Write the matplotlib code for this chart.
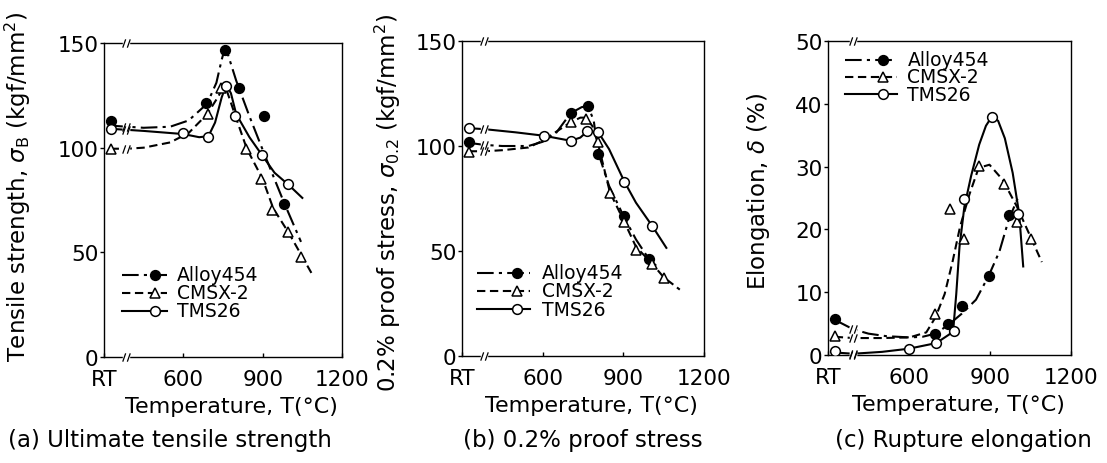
import numpy as np
import matplotlib
matplotlib.use("Agg")
import matplotlib.pyplot as plt
from matplotlib.path import Path

plt.rcParams['font.family'] = ['DejaVu Sans']
plt.rcParams['mathtext.fontset'] = 'dejavusans'

RT = 325  # plotting position used for room temperature

series_names = ["Alloy454", "CMSX-2", "TMS26"]
x_ticks = [300, 600, 900, 1200]
x_ticklabels = ["RT", "600", "900", "1200"]

# ---------------- (a) Ultimate tensile strength ----------------
a_alloy_T = [RT, 687, 756, 810, 906, 981]
a_alloy_v = [112.8, 121.3, 146.8, 128.3, 114.9, 72.9]
a_cmsx_T = [RT, 694, 744, 837, 894, 937, 997, 1044]
a_cmsx_v = [99.3, 116, 128.3, 99.3, 85.2, 70, 59.7, 47.9]
a_tms_T = [RT, 600, 695, 762, 794, 897, 994]
a_tms_v = [108.8, 106.8, 105.3, 129.3, 115.2, 96.4, 82.5]

a_alloy_cT = [325, 390, 450, 550, 620, 690, 725, 745, 755, 770, 800, 850, 900, 935, 980, 1045]
a_alloy_cv = [110.5, 110, 109.5, 110, 113, 121, 131, 142, 146.5, 144, 132, 115, 99, 88, 74, 55]
a_cmsx_cT = [325, 390, 450, 550, 620, 690, 730, 750, 765, 800, 840, 900, 940, 1000, 1085]
a_cmsx_cv = [99.5, 99.5, 100, 102.5, 107, 116, 124, 128.5, 127, 114, 99.5, 85, 71, 59, 40]
a_tms_cT = [325, 390, 450, 600, 660, 695, 720, 745, 762, 780, 800, 850, 900, 945, 1000, 1050]
a_tms_cv = [109, 108.5, 108, 106.5, 105, 105.5, 112, 124, 130, 126, 116, 105, 96, 88, 82, 76]

# ---------------- (b) 0.2% proof stress ----------------
b_alloy_T = [RT, 704, 769, 806, 901, 994]
b_alloy_v = [101.7, 115.6, 119, 96.4, 66.6, 46.4]
b_cmsx_T = [RT, 704, 760, 806, 850, 904, 947, 1007, 1050]
b_cmsx_v = [97.2, 111.3, 112.9, 102, 77.5, 63.8, 50.4, 44, 37.1]
b_tms_T = [RT, 604, 704, 766, 807, 904, 1007]
b_tms_v = [108.4, 104.9, 102.5, 107, 106.5, 82.9, 61.9]

b_alloy_cT = [325, 385, 450, 547, 600, 647, 704, 745, 769, 790, 806, 847, 901, 947, 994, 1022]
b_alloy_cv = [101.5, 100.5, 100, 100, 102, 105.7, 115.6, 118.5, 119, 112, 97, 81, 66.6, 55.5, 46.4, 43]
b_cmsx_cT = [325, 385, 450, 547, 600, 647, 704, 740, 760, 785, 806, 850, 904, 947, 1007, 1050, 1110]
b_cmsx_cv = [97.5, 97.5, 98, 99.3, 102.5, 106.5, 111.3, 113.5, 113.5, 109.5, 101, 78, 63.8, 52, 44, 37.5, 31.6]
b_tms_cT = [325, 385, 500, 604, 704, 740, 766, 807, 847, 904, 947, 1007, 1060]
b_tms_cv = [108.5, 108, 106.5, 104.9, 102.5, 104, 107, 106.5, 98.5, 83, 73, 62, 51.5]

# ---------------- (c) Rupture elongation ----------------
c_alloy_T = [RT, 698, 746, 796, 895, 969]
c_alloy_v = [5.8, 3.4, 5.0, 7.8, 12.6, 22.3]
c_cmsx_T = [RT, 698, 750, 805, 858, 951, 1000, 1051]
c_cmsx_v = [3.0, 6.5, 23.2, 18.4, 30.1, 27.2, 21.2, 18.4]
c_tms_T = [RT, 599, 701, 765, 805, 906, 1005]
c_tms_v = [0.6, 1.0, 1.9, 3.8, 24.9, 37.9, 22.5]

c_alloy_cT = [325, 393, 450, 516, 602, 650, 698, 746, 796, 848, 895, 935, 969, 1008]
c_alloy_cv = [5.6, 4.1, 3.4, 3.0, 2.8, 2.9, 3.4, 4.8, 6.6, 8.8, 12.6, 16.5, 21.5, 25.5]
c_cmsx_cT = [325, 393, 500, 602, 664, 698, 732, 762, 789, 824, 858, 898, 947, 1000, 1045, 1092]
c_cmsx_cv = [2.9, 2.7, 2.7, 2.8, 3.6, 6.0, 9.7, 15, 20.4, 25.6, 29.8, 30.3, 27.9, 23.6, 19.3, 14.8]
c_tms_cT = [325, 393, 500, 599, 701, 750, 765, 775, 787, 805, 830, 860, 885, 906, 930, 955, 984, 1008, 1023]
c_tms_cv = [0.4, 0.2, 0.5, 1.0, 1.9, 3.3, 4.6, 9.7, 17.2, 23.6, 28.5, 33.5, 36.5, 37.9, 37.3, 34.5, 29, 22.5, 14.1]

styles = [
    dict(ls=(0, (8, 2.5, 1.5, 2.5)), marker='o', mfc='black'),
    dict(ls=(0, (4, 2.2)), marker='^', mfc='white'),
    dict(ls='-', marker='o', mfc='white'),
]
MS = {'o': 7.0, '^': 7.5}
LW = 1.5

brk_path = Path([(-0.9, -1.0), (-0.2, 1.0), (0.2, -1.0), (0.9, 1.0)],
                [Path.MOVETO, Path.LINETO, Path.MOVETO, Path.LINETO])


def draw_break(ax, x, ys):
    ax.plot([x] * len(ys), ys, 's', ms=4.5, mfc='white', mec='white', zorder=6, clip_on=False)
    ax.plot([x] * len(ys), ys, linestyle='none', marker=brk_path, ms=6, mec='black', mew=0.9,
            zorder=7, clip_on=False)


fig = plt.figure(figsize=(11.07, 4.64), dpi=100)
W, H = 1107.0, 464.0
panels = [
    dict(box=(104, 44, 342, 358), ylim=(0, 150), yticks=[0, 50, 100, 150],
         ylabel=r"Tensile strength, $\sigma_{\rm B}$ (kgf/mm$^2$)", ylab=(-0.298, 0.545),
         caption="(a) Ultimate tensile strength", capx=170,
         pts=[(a_alloy_T, a_alloy_v), (a_cmsx_T, a_cmsx_v), (a_tms_T, a_tms_v)],
         crv=[(a_alloy_cT, a_alloy_cv), (a_cmsx_cT, a_cmsx_cv), (a_tms_cT, a_tms_cv)],
         brkx=385, leg=(0.074, 0.263, 0.214, 0.305, [0.262, 0.205, 0.147])),
    dict(box=(462, 42, 704, 357), ylim=(0, 150), yticks=[0, 50, 100, 150],
         ylabel=r"0.2% proof stress, $\sigma_{0.2}$ (kgf/mm$^2$)", ylab=(-0.244, 0.49),
         caption="(b) 0.2% proof stress", capx=583,
         pts=[(b_alloy_T, b_alloy_v), (b_cmsx_T, b_cmsx_v), (b_tms_T, b_tms_v)],
         crv=[(b_alloy_cT, b_alloy_cv), (b_cmsx_cT, b_cmsx_cv), (b_tms_cT, b_tms_cv)],
         brkx=380, leg=(0.063, 0.283, 0.229, 0.331, [0.265, 0.207, 0.149])),
    dict(box=(828, 42, 1071, 356), ylim=(0, 50), yticks=[0, 10, 20, 30, 40, 50],
         ylabel=r"Elongation, $\delta$ (%)", ylab=(-0.23, 0.525),
         caption="(c) Rupture elongation", capx=963,
         pts=[(c_alloy_T, c_alloy_v), (c_cmsx_T, c_cmsx_v), (c_tms_T, c_tms_v)],
         crv=[(c_alloy_cT, c_alloy_cv), (c_cmsx_cT, c_cmsx_cv), (c_tms_cT, c_tms_cv)],
         brkx=393, leg=(0.068, 0.285, 0.226, 0.327, [0.941, 0.886, 0.830])),
]

FS_TICK = 15.5
FS_XLAB = 16
FS_YLAB = 16.5
FS_LEG = 13.5
FS_CAP = 16.5

for p in panels:
    l, t, r, b = p['box']
    ax = fig.add_axes([l / W, 1 - b / H, (r - l) / W, (b - t) / H])
    ax.set_xlim(300, 1200)
    ax.set_ylim(*p['ylim'])
    ax.set_xticks(x_ticks)
    ax.set_xticklabels(x_ticklabels)
    ax.set_yticks(p['yticks'])
    ax.tick_params(axis='y', direction='out', length=3, width=1, pad=1, labelsize=FS_TICK)
    ax.tick_params(axis='x', direction='in', length=3, width=1, pad=9, labelsize=FS_TICK)
    for s in ax.spines.values():
        s.set_linewidth(1.0)
    ax.set_xlabel("Temperature, T(°C)", fontsize=FS_XLAB)
    ax.xaxis.set_label_coords(0.535, -0.125)
    ax.set_ylabel(p['ylabel'], fontsize=FS_YLAB)
    ax.yaxis.set_label_coords(*p['ylab'])

    for (ct, cv), st in zip(p['crv'], styles):
        ax.plot(ct, cv, color='black', lw=LW, ls=st['ls'], zorder=3)
    for (pt, pv), st in zip(p['pts'], styles):
        ax.plot(pt, pv, linestyle='none', marker=st['marker'], ms=MS[st['marker']],
                mfc=st['mfc'], mec='black', mew=1.1, zorder=4)

    # break marks on spines and curves
    ymin, ymax = p['ylim']
    draw_break(ax, p['brkx'], [ymin, ymax])
    ys = [float(np.interp(p['brkx'], ct, cv)) for ct, cv in p['crv']]
    draw_break(ax, p['brkx'], ys)

    # legend drawn by hand (marker at right end of the line sample)
    x0, x1, xm, xt, rows = p['leg']
    for name, st, yy in zip(series_names, styles, rows):
        ax.plot([x0, x1], [yy, yy], color='black', lw=LW, ls=st['ls'], transform=ax.transAxes)
        ax.plot([xm], [yy], linestyle='none', marker=st['marker'], ms=MS[st['marker']],
                mfc=st['mfc'], mec='black', mew=1.1, transform=ax.transAxes, zorder=5)
        ax.text(xt, yy, name, transform=ax.transAxes, fontsize=FS_LEG, va='center', ha='left')

    fig.text(p['capx'] / W, 1 - 441 / H, p['caption'], fontsize=FS_CAP, ha='center', va='center')

fig.savefig("out.png", dpi=100)
